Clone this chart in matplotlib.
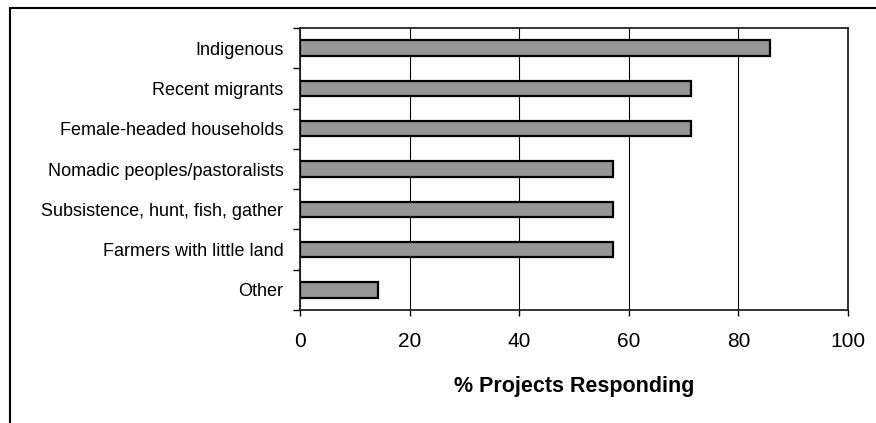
import numpy as np
import matplotlib.pyplot as plt
from matplotlib.lines import Line2D

plt.rcParams['font.family'] = ['Liberation Sans', 'DejaVu Sans']

groups = [
    'Indigenous',
    'Recent migrants',
    'Female-headed households',
    'Nomadic peoples/pastoralists',
    'Subsistence, hunt, fish, gather',
    'Farmers with little land',
    'Other',
]
pct_responding = [85.7, 71.4, 71.4, 57.1, 57.1, 57.1, 14.3]
x_ticks = [0, 20, 40, 60, 80, 100]

fig = plt.figure(figsize=(8.76, 4.23), dpi=100)
ax = fig.add_axes([300 / 876, 1 - 310 / 423, 548 / 876, 282 / 423])

y = np.arange(len(groups))
ax.barh(y, pct_responding, height=0.38, color='#969696',
        edgecolor='black', linewidth=1.6, zorder=3)

ax.set_xlim(0, 100)
ax.set_ylim(len(groups) - 0.5, -0.5)
ax.set_xticks(x_ticks)
ax.tick_params(axis='x', labelsize=15, length=4, width=1, pad=12, direction='out')
ax.xaxis.grid(True, color='black', linewidth=0.8, zorder=0)

# category labels centred on bars, tick marks between categories
ax.set_yticks(y)
ax.set_yticklabels(groups, fontsize=13)
ax.tick_params(axis='y', which='major', length=0, pad=12)
ax.set_yticks(np.arange(-0.5, len(groups)), minor=True)
ax.tick_params(axis='y', which='minor', length=5, width=1, direction='out')

for side in ['left', 'right', 'top', 'bottom']:
    ax.spines[side].set_linewidth(1.3)
    ax.spines[side].set_color('#222222')

ax.set_xlabel('% Projects Responding', fontsize=15.5, fontweight='bold', labelpad=18)

# outer chart frame
fig.add_artist(Line2D([10 / 876, 10 / 876], [0, 1 - 8 / 423],
                      color='black', linewidth=1.5, transform=fig.transFigure))
fig.add_artist(Line2D([10 / 876, 1], [1 - 8 / 423, 1 - 8 / 423],
                      color='black', linewidth=1.5, transform=fig.transFigure))

fig.savefig('out.png', dpi=100)
